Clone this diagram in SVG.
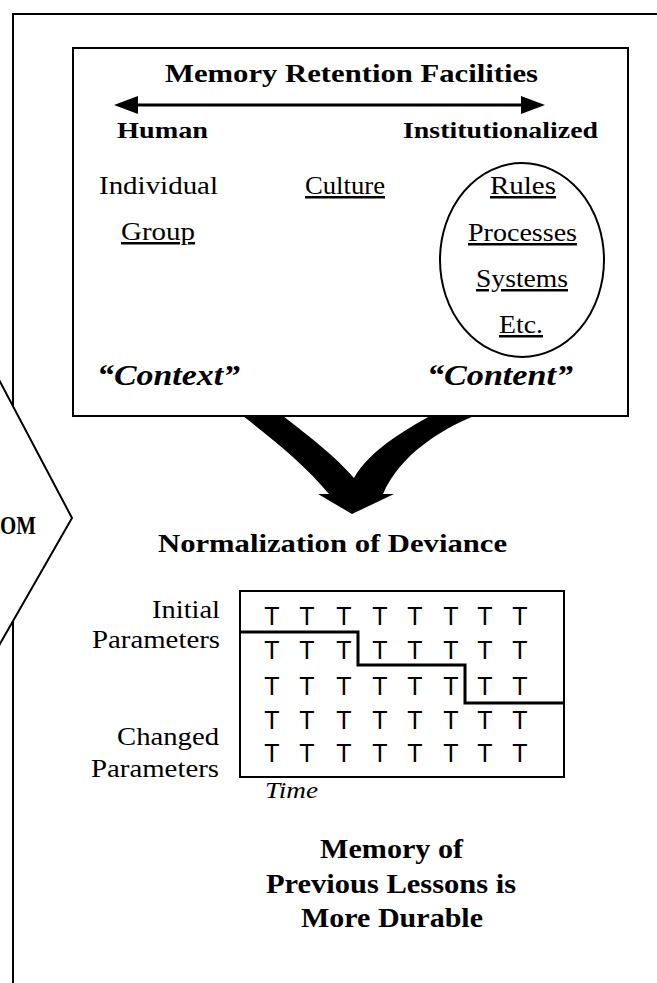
<svg xmlns="http://www.w3.org/2000/svg" width="657" height="983" viewBox="0 0 657 983">
<style>
.s{font-family:"Liberation Serif","Times New Roman",serif;fill:#000}
.b{font-weight:bold}
.i{font-style:italic}
.u{text-decoration:underline}
.t{font-family:"Liberation Sans",Arial,sans-serif;font-size:25px;text-anchor:middle;fill:#000}
.ln{fill:none;stroke:#000;stroke-width:2}
</style>
<defs>
<marker id="ah" viewBox="0 0 24 18" refX="2" refY="9" markerWidth="24" markerHeight="18" markerUnits="userSpaceOnUse" orient="auto-start-reverse">
<path d="M0,0 L24,9 L0,18 Z" fill="#000"/>
</marker>
</defs>
<rect width="657" height="983" fill="#fff"/>
<g id="frame">
<polyline class="ln" points="657,14 13,14 13,983"/>
</g>
<g id="side-node">
<polygon points="-3,376 72,518 -3,649" fill="#fff" stroke="#000" stroke-width="2"/>
<text class="s b" x="0" y="534" font-size="26" textLength="36" lengthAdjust="spacingAndGlyphs">OM</text>
</g>
<g id="retention-box">
<rect x="73" y="48" width="555" height="368" fill="#fff" stroke="#000" stroke-width="2"/>
<text class="s b" x="165" y="82" font-size="26" textLength="373" lengthAdjust="spacingAndGlyphs">Memory Retention Facilities</text>
<text class="s b" x="117" y="138" font-size="24" textLength="91" lengthAdjust="spacingAndGlyphs">Human</text>
<text class="s b" x="403" y="138" font-size="24" textLength="195" lengthAdjust="spacingAndGlyphs">Institutionalized</text>
<text class="s" x="99" y="194" font-size="25" textLength="119" lengthAdjust="spacingAndGlyphs">Individual</text>
<text class="s u" x="305" y="194" font-size="25" textLength="80" lengthAdjust="spacingAndGlyphs">Culture</text>
<text class="s u" x="121" y="240" font-size="25" textLength="74" lengthAdjust="spacingAndGlyphs">Group</text>
<text class="s b i" x="97" y="385" font-size="29" textLength="143" lengthAdjust="spacingAndGlyphs">“Context”</text>
<text class="s b i" x="427" y="385" font-size="29" textLength="146" lengthAdjust="spacingAndGlyphs">“Content”</text>
</g>
<g id="content-ellipse">
<ellipse cx="522" cy="260" rx="82" ry="97" fill="none" stroke="#000" stroke-width="2"/>
<text class="s u" x="490" y="194" font-size="25" textLength="66" lengthAdjust="spacingAndGlyphs">Rules</text>
<text class="s u" x="468" y="241" font-size="25" textLength="109" lengthAdjust="spacingAndGlyphs">Processes</text>
<text class="s u" x="476" y="287" font-size="25" textLength="92" lengthAdjust="spacingAndGlyphs">Systems</text>
<text class="s u" x="499" y="333" font-size="25" textLength="44" lengthAdjust="spacingAndGlyphs">Etc.</text>
</g>
<g id="normalization">
<text class="s b" x="158" y="552" font-size="26" textLength="349" lengthAdjust="spacingAndGlyphs">Normalization of Deviance</text>
<text class="s" x="152" y="618" font-size="26" textLength="68" lengthAdjust="spacingAndGlyphs">Initial</text>
<text class="s" x="92" y="648" font-size="26" textLength="128" lengthAdjust="spacingAndGlyphs">Parameters</text>
<text class="s" x="117" y="745" font-size="26" textLength="102" lengthAdjust="spacingAndGlyphs">Changed</text>
<text class="s" x="91" y="777" font-size="26" textLength="128" lengthAdjust="spacingAndGlyphs">Parameters</text>
<text class="s i" x="265" y="798" font-size="23" textLength="53" lengthAdjust="spacingAndGlyphs">Time</text>
<rect x="240" y="591" width="324" height="186" fill="none" stroke="#000" stroke-width="2"/>
<polyline points="240,632 358,632 358,665 465,665 465,703 564,703" fill="none" stroke="#000" stroke-width="3"/>
<g class="t">
<text x="272" y="625">T</text><text x="307" y="625">T</text><text x="344" y="625">T</text><text x="380" y="625">T</text><text x="415" y="625">T</text><text x="451" y="625">T</text><text x="485" y="625">T</text><text x="520" y="625">T</text>
<text x="272" y="659">T</text><text x="307" y="659">T</text><text x="344" y="659">T</text><text x="380" y="659">T</text><text x="415" y="659">T</text><text x="451" y="659">T</text><text x="485" y="659">T</text><text x="520" y="659">T</text>
<text x="272" y="695">T</text><text x="307" y="695">T</text><text x="344" y="695">T</text><text x="380" y="695">T</text><text x="415" y="695">T</text><text x="451" y="695">T</text><text x="485" y="695">T</text><text x="520" y="695">T</text>
<text x="272" y="729">T</text><text x="307" y="729">T</text><text x="344" y="729">T</text><text x="380" y="729">T</text><text x="415" y="729">T</text><text x="451" y="729">T</text><text x="485" y="729">T</text><text x="520" y="729">T</text>
<text x="272" y="762">T</text><text x="307" y="762">T</text><text x="344" y="762">T</text><text x="380" y="762">T</text><text x="415" y="762">T</text><text x="451" y="762">T</text><text x="485" y="762">T</text><text x="520" y="762">T</text>
</g>
</g>
<g id="conclusion">
<text class="s b" x="320" y="858" font-size="27" textLength="143" lengthAdjust="spacingAndGlyphs">Memory of</text>
<text class="s b" x="266" y="893" font-size="27" textLength="250" lengthAdjust="spacingAndGlyphs">Previous Lessons is</text>
<text class="s b" x="301" y="927" font-size="27" textLength="182" lengthAdjust="spacingAndGlyphs">More Durable</text>
</g>
<g id="connectors">
<line x1="136" y1="105" x2="523" y2="105" stroke="#000" stroke-width="3" marker-start="url(#ah)" marker-end="url(#ah)"/>
<path d="M243,416 L283,416 C310,437 335,456 354,478 C370,450 405,430 430,416 L474,416 C440,430 400,455 383,494 L394,494 L352,514 L318,494 L329,494 C305,465 275,441 243,416 Z" fill="#000"/>
</g>
</svg>
